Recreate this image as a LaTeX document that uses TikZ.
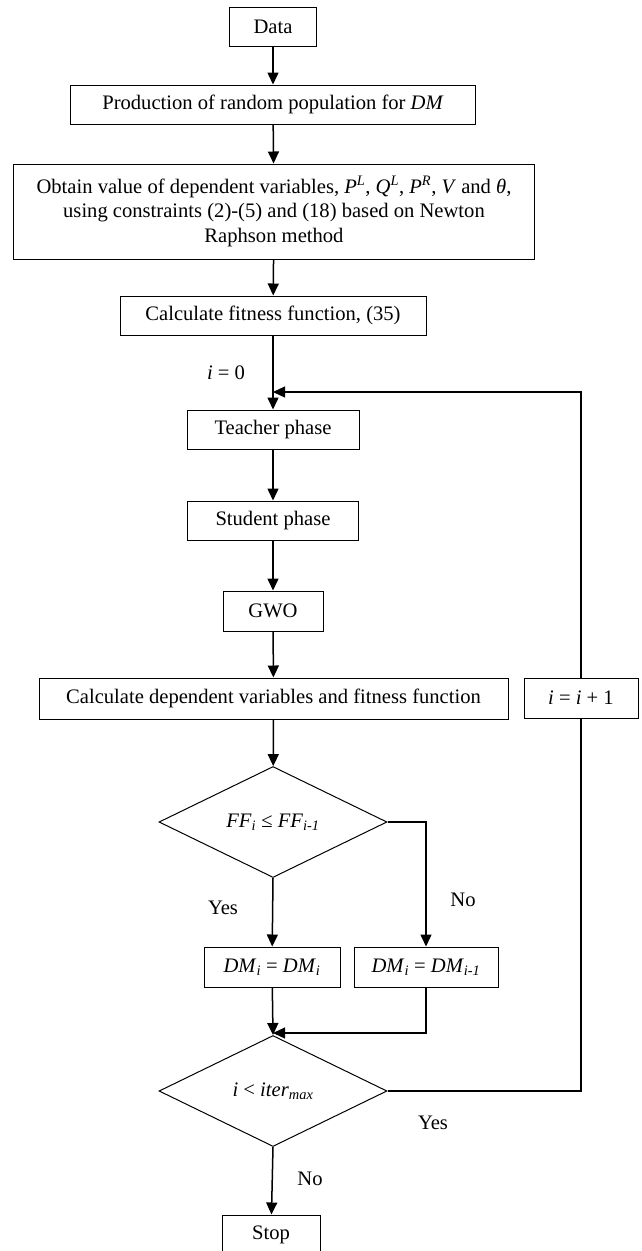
\documentclass[tikz,border=0pt]{standalone}
\usepackage{fontspec}
\setmainfont{Liberation Serif}
\usetikzlibrary{shapes.geometric,arrows.meta}
\begin{document}
\begin{tikzpicture}[x=1pt,y=-1pt,
  font=\fontsize{20.6}{24.5}\selectfont,
  box/.style={draw,line width=1pt,inner sep=0pt,align=center,minimum height=39pt},
  dia/.style={draw,line width=1pt,shape=diamond,inner sep=0pt,minimum width=228pt,minimum height=111pt},
  flow/.style={line width=1.5pt,-{Triangle[length=12pt,width=11pt]}},
  thinflow/.style={line width=1.1pt,-{Triangle[length=12pt,width=11pt]}},
  plain/.style={line width=1.1pt},
  lbl/.style={inner sep=0pt}]
\useasboundingbox (0,0) rectangle (642,1251);
\node[box,minimum width=87pt] (data) at (273,26.5) {Data};
\node[box,minimum width=405pt] (prod) at (273,104.5) {Production of random population for \textit{DM}};
\node[box,minimum width=521pt,minimum height=95pt] (obtain) at (274,211.5)
  {Obtain value of dependent variables, \textit{P}\textsuperscript{\textit{L}}, \textit{Q}\textsuperscript{\textit{L}}, \textit{P}\textsuperscript{\textit{R}}, \textit{V} and \textit{θ},\\
   using constraints (2)-(5) and (18) based on Newton\\ Raphson method};
\node[box,minimum width=306pt] (calcfit) at (273,315.5) {Calculate fitness function, (35)};
\node[lbl] (izero) at (226,373) {\textit{i} = 0};
\coordinate (join) at (273,392);
\node[box,minimum width=172pt] (teacher) at (273,429.5) {Teacher phase};
\node[box,minimum width=171pt] (student) at (273,520.5) {Student phase};
\node[box,minimum width=100pt,minimum height=40pt] (gwo) at (273,611) {GWO};
\node[box,minimum width=469pt,minimum height=41pt] (calcdep) at (273.5,698.5) {Calculate dependent variables and fitness function};
\node[box,minimum width=114pt,minimum height=40pt] (iter) at (581,698) {\textit{i} = \textit{i} + 1};
\node[dia] (dia1) at (273,822) {\textit{FF}\textsubscript{\textit{i}} ≤ \textit{FF}\textsubscript{\textit{i-1}}};
\node[lbl] (yes1) at (223,908) {Yes};
\node[lbl] (no1) at (463,900) {No};
\node[box,minimum width=136pt,minimum height=40pt] (dml) at (272,967) {\textit{DM}\textsubscript{\textit{i}} = \textit{DM}\textsubscript{\textit{i}}};
\node[box,minimum width=144pt,minimum height=40pt] (dmr) at (426,967) {\textit{DM}\textsubscript{\textit{i}} = \textit{DM}\textsubscript{\textit{i-1}}};
\coordinate (merge) at (273,1033);
\node[dia] (dia2) at (273,1091) {\textit{i} < \textit{iter}\textsubscript{\textit{max}}};
\node[lbl] (yes2) at (433,1123) {Yes};
\node[lbl] (no2) at (310,1179) {No};
\node[box,minimum width=98pt,minimum height=40pt] (stop) at (271,1235) {Stop};
% connectors
\draw[flow] (data) -- (prod);
\draw[flow] (prod) -- (obtain);
\draw[flow] (obtain) -- (calcfit);
\draw[flow] (calcfit) -- (teacher);
\draw[flow] (teacher) -- (student);
\draw[flow] (student) -- (gwo);
\draw[flow] (gwo) -- (calcdep);
\draw[flow] (calcdep) -- (dia1);
\draw[flow] (dia1.south) -- (dml);
\draw[flow] (dia1.east) -| (dmr.north);
\draw[flow] (dml) -- (dia2.north);
\draw[thinflow] (dmr.south) |- (merge);
\draw[flow] (dia2.south) -- (stop);
\draw[plain] (dia2.east) -| (iter.south);
\draw[thinflow] (iter.north) |- (join);
\end{tikzpicture}
\end{document}
